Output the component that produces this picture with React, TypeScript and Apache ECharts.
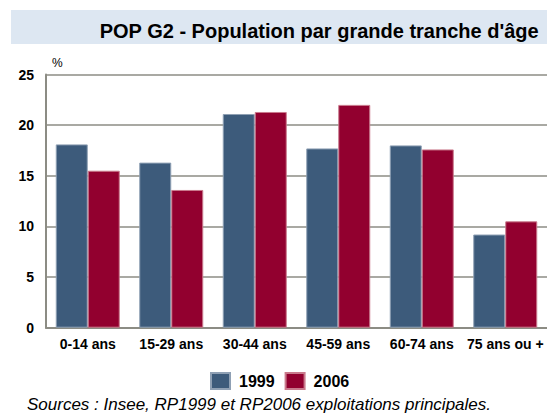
import React, { useEffect, useRef } from "react";
import * as echarts from "echarts";

const categories = ["0-14 ans", "15-29 ans", "30-44 ans", "45-59 ans", "60-74 ans", "75 ans ou +"];
const values1999 = [18.1, 16.3, 21.1, 17.7, 18.0, 9.2];
const values2006 = [15.5, 13.6, 21.3, 22.0, 17.6, 10.5];
const seriesNames = ["1999", "2006"];
const yTicks = { min: 0, max: 25, interval: 5 };

const TITLE = "POP G2 - Population par grande tranche d'âge";
const SOURCE = "Sources : Insee, RP1999 et RP2006 exploitations principales.";

export default function App() {
  const ref = useRef<HTMLDivElement>(null);
  useEffect(() => {
    document.body.style.margin = "0";
    if (!ref.current) return;
    const chart = echarts.init(ref.current, null, { renderer: "svg" });
    const font = "Liberation Sans, Arial, sans-serif";
    chart.setOption({
      animation: false,
      backgroundColor: "#ffffff",
      textStyle: { fontFamily: font },
      graphic: [
        {
          type: "rect",
          shape: { x: 11, y: 10, width: 536, height: 34 },
          style: { fill: "#dde7f2" },
          silent: true,
        },
      ],
      title: [
        {
          text: TITLE,
          right: 3,
          top: 16,
          textStyle: { fontFamily: font, fontSize: 20, fontWeight: "bold", color: "#000" },
        },
        {
          text: SOURCE,
          left: 27,
          top: 395,
          padding: 0,
          textStyle: { fontFamily: font, fontSize: 17, fontStyle: "italic", fontWeight: "normal", color: "#000", lineHeight: 18 },
        },
      ],
      legend: {
        left: 205,
        top: 367,
        itemWidth: 19,
        itemHeight: 16,
        itemGap: 10,
        icon: "rect",
        data: seriesNames,
        textStyle: { fontFamily: font, fontSize: 16, fontWeight: "bold", color: "#000", padding: [0, 0, 0, 4] },
      },
      grid: { left: 46, right: 0, top: 74.5, bottom: 87.3 },
      xAxis: {
        type: "category",
        data: categories,
        axisLine: { show: true, lineStyle: { color: "#8c8c84", width: 2 } },
        axisTick: { show: false },
        axisLabel: { fontFamily: font, fontSize: 14, fontWeight: "bold", color: "#000", margin: 9, interval: 0 },
      },
      yAxis: {
        type: "value",
        min: yTicks.min,
        max: yTicks.max,
        interval: yTicks.interval,
        name: "%",
        nameLocation: "end",
        nameGap: 6,
        nameTextStyle: { fontFamily: font, fontSize: 12, color: "#000", align: "left", padding: [0, 0, 0, 6] },
        axisLine: { show: true, lineStyle: { color: "#8c8c84", width: 2 } },
        axisTick: { show: false },
        splitLine: { show: true, lineStyle: { color: "#8c8c84", width: 1.5 } },
        axisLabel: { fontFamily: font, fontSize: 14, fontWeight: "bold", color: "#000", margin: 12 },
      },
      series: [
        {
          name: seriesNames[0],
          type: "bar",
          data: values1999,
          barWidth: 32,
          barGap: "0%",
          itemStyle: { color: "#3d5b7b", borderColor: "#8fa0b4", borderWidth: 1 },
        },
        {
          name: seriesNames[1],
          type: "bar",
          data: values2006,
          barWidth: 32,
          barGap: "0%",
          itemStyle: { color: "#92002f", borderColor: "#c97a8c", borderWidth: 1 },
        },
      ],
    });
    return () => chart.dispose();
  }, []);
  return <div ref={ref} style={{ width: 547, height: 415 }} />;
}
